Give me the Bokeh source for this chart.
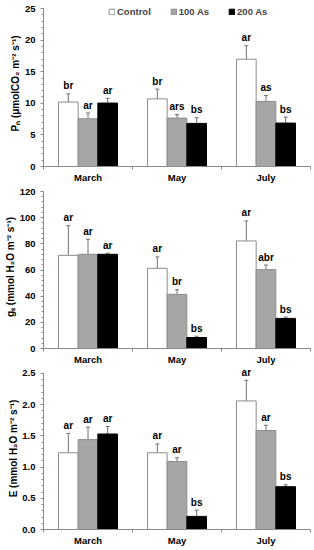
import numpy as np
from bokeh.plotting import figure
from bokeh.layouts import column
from bokeh.models import (ColumnDataSource, Range1d, FixedTicker, SingleIntervalTicker,
                          Whisker, TeeHead, NumeralTickFormatter, Title)
from bokeh.embed import file_html
from bokeh.resources import INLINE
from bokeh.core.properties import value

months = ["March", "May", "July"]
treatments = ["Control", "100 As", "200 As"]

# Net photosynthesis Pn
pn_control = [10.2, 10.7, 16.97]
pn_100 = [7.56, 7.66, 10.3]
pn_200 = [10.04, 6.82, 6.87]
pn_control_se = [1.3, 1.55, 2.15]
pn_100_se = [0.9, 0.55, 0.95]
pn_200_se = [0.75, 0.9, 0.95]
pn_control_lab = ["br", "br", "ar"]
pn_100_lab = ["ar", "ars", "as"]
pn_200_lab = ["ar", "bs", "bs"]

# Stomatal conductance gs
gs_control = [71.2, 61.3, 82.2]
gs_100 = [72.0, 41.4, 60.3]
gs_200 = [72.0, 8.4, 23.0]
gs_control_se = [22.7, 8.7, 15.3]
gs_100_se = [11.5, 3.5, 3.5]
gs_200_se = [0.8, 1.0, 1.0]
gs_control_lab = ["ar", "ar", "ar"]
gs_100_lab = ["ar", "br", "abr"]
gs_200_lab = ["ar", "bs", "bs"]

# Transpiration E
e_control = [1.23, 1.23, 2.06]
e_100 = [1.44, 1.09, 1.585]
e_200 = [1.53, 0.21, 0.686]
e_control_se = [0.31, 0.14, 0.33]
e_100_se = [0.2, 0.06, 0.085]
e_200_se = [0.12, 0.1, 0.03]
e_control_lab = ["ar", "ar", "ar"]
e_100_lab = ["ar", "ar", "ar"]
e_200_lab = ["ar", "bs", "bs"]

FONT = "Liberation Sans"
AXIS_GREY = "#8a8a8a"
fills = ["white", "#a6a6a6", "black"]
lines = ["#8c8c8c", "#8c8c8c", "black"]
BAR_W = 0.221


def make_panel(means, ses, labs, ymax, interval, fmt, ylabel, label_shift,
               height, bb, pad, legend=False):
    fh = height - bb
    y_end = ymax * fh / (fh - pad)
    p = figure(width=314, height=height, output_backend="svg", toolbar_location=None,
               x_range=Range1d(0, 3), y_range=Range1d(0, y_end),
               min_border_left=43, min_border_right=4, min_border_top=0, min_border_bottom=bb)
    p.outline_line_color = None
    p.xgrid.visible = False
    p.ygrid.visible = False
    p.background_fill_color = "white"
    p.border_fill_color = "white"

    centers = np.arange(len(months)) + 0.5
    for k, (t, m, s, lb) in enumerate(zip(treatments, means, ses, labs)):
        xs = centers + (k - 1) * BAR_W
        m = np.array(m)
        up = m + np.array(s)
        src = ColumnDataSource(dict(x=xs, top=m, up=up, lab=lb))
        kw = dict(legend_label=t) if legend else {}
        p.vbar(x="x", top="top", width=BAR_W, source=src, fill_color=fills[k],
               line_color=lines[k], line_width=1, **kw)
        w = Whisker(source=src, base="x", upper="up", lower="top", line_color="#707070",
                    line_width=1, upper_head=TeeHead(size=4, line_color="#707070", line_width=1),
                    lower_head=None)
        p.add_layout(w)
        p.text(x="x", y="up", text="lab", source=src, text_font=value(FONT),
               text_font_style="bold", text_font_size="10px", text_align="center",
               text_baseline="alphabetic", y_offset=-8, text_color="black")

    xa = p.xaxis[0]
    xa.ticker = FixedTicker(ticks=list(centers), minor_ticks=[0, 1, 2, 3])
    xa.major_label_overrides = {float(c): mo for c, mo in zip(centers, months)}
    xa.major_tick_out = 0
    xa.major_tick_in = 0
    xa.minor_tick_out = 3
    xa.minor_tick_in = 0
    xa.major_label_standoff = 2

    ya = p.yaxis[0]
    ya.ticker = SingleIntervalTicker(interval=interval, num_minor_ticks=5)
    ya.formatter = NumeralTickFormatter(format=fmt)
    ya.bounds = (0, ymax)
    ya.major_tick_out = 3
    ya.major_tick_in = 0
    ya.minor_tick_out = 2
    ya.minor_tick_in = 0
    ya.major_label_standoff = 5

    for ax in (xa, ya):
        ax.axis_line_color = AXIS_GREY
        ax.major_tick_line_color = AXIS_GREY
        ax.minor_tick_line_color = AXIS_GREY
        ax.major_label_text_font = FONT
        ax.major_label_text_font_style = "bold"
        ax.major_label_text_font_size = "9.5px"
        ax.major_label_text_color = "black"

    p.add_layout(Title(text=ylabel, align="center", offset=label_shift,
                       text_font=FONT, text_font_style="bold", text_font_size="10px",
                       text_color="black", standoff=2), "left")

    if legend:
        lg = p.legend[0]
        lg.orientation = "horizontal"
        lg.location = (65, fh - 12 - 5)
        lg.padding = 0
        lg.margin = 0
        lg.spacing = 19
        lg.glyph_width = 7
        lg.glyph_height = 7
        lg.label_height = 10
        lg.label_standoff = 2
        lg.label_text_font = FONT
        lg.label_text_font_style = "bold"
        lg.label_text_font_size = "9.5px"
        lg.label_text_baseline = "middle"
        lg.border_line_color = None
        lg.background_fill_alpha = 0
    return p


p1 = make_panel([pn_control, pn_100, pn_200], [pn_control_se, pn_100_se, pn_200_se],
                [pn_control_lab, pn_100_lab, pn_200_lab], 25, 5, "0",
                "Pₙ (μmolCO₂ m⁻² s⁻¹)", 9, 185, 19, 8, legend=True)
p2 = make_panel([gs_control, gs_100, gs_200], [gs_control_se, gs_100_se, gs_200_se],
                [gs_control_lab, gs_100_lab, gs_200_lab], 120, 20, "0",
                "gₛ (mmol H₂O m⁻² s⁻¹)", 0, 182, 19, 6)
p3 = make_panel([e_control, e_100, e_200], [e_control_se, e_100_se, e_200_se],
                [e_control_lab, e_100_lab, e_200_lab], 2.5, 0.5, "0.0",
                "E (mmol H₂O m⁻² s⁻¹)", 4, 181, 18, 6)

layout = column(p1, p2, p3, spacing=0)
open("out.html", "w").write(file_html(layout, INLINE))
